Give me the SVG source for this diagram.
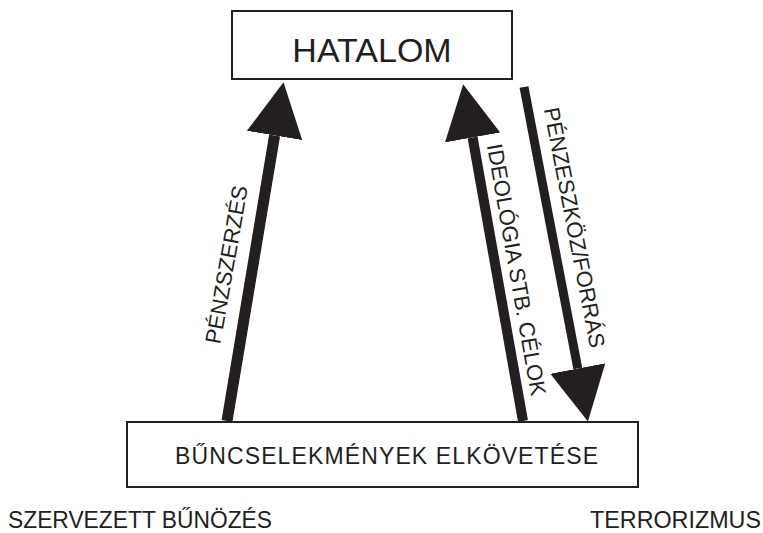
<svg xmlns="http://www.w3.org/2000/svg" width="763" height="533" viewBox="0 0 763 533">
<style>
.box{fill:#fff;stroke:#231f20;stroke-width:2}
.t{font-family:"Liberation Sans",Arial,sans-serif;fill:#231f20}
.shaft{stroke:#231f20;fill:none}
</style>
<defs>
<marker id="head" markerUnits="userSpaceOnUse" markerWidth="56" markerHeight="58" refX="0" refY="28" orient="auto">
<path d="M0,0 L54,28 L0,56 z" fill="#231f20"/>
</marker>
</defs>
<rect width="763" height="533" fill="#fff"/>
<g id="connectors">
<line class="shaft" x1="227" y1="421" x2="274.6" y2="135.5" stroke-width="11" marker-end="url(#head)"/>
<line class="shaft" x1="523" y1="421" x2="472.6" y2="137.5" stroke-width="10" marker-end="url(#head)"/>
<line class="shaft" x1="524" y1="87" x2="577.8" y2="368.5" stroke-width="9" marker-end="url(#head)"/>
<text class="t" font-size="22" text-anchor="middle" transform="translate(234,266) rotate(-80)">PÉNZSZERZÉS</text>
<text class="t" font-size="22" text-anchor="middle" transform="translate(509,271) rotate(80)">IDEOLÓGIA STB. CÉLOK</text>
<text class="t" font-size="22" text-anchor="middle" transform="translate(567,229) rotate(79)">PÉNZESZKÖZ/FORRÁS</text>
</g>
<g id="hatalom">
<rect class="box" x="232" y="11" width="280" height="68"/>
<text class="t" x="372" y="62" font-size="34" text-anchor="middle">HATALOM</text>
</g>
<g id="buncselekmenyek">
<rect class="box" x="127" y="422" width="511" height="65"/>
<text class="t" x="175" y="464" font-size="23" textLength="423" lengthAdjust="spacing">BŰNCSELEKMÉNYEK ELKÖVETÉSE</text>
</g>
<g id="szervezett">
<text class="t" x="8" y="528" font-size="23" textLength="264" lengthAdjust="spacingAndGlyphs">SZERVEZETT BŰNÖZÉS</text>
</g>
<g id="terrorizmus">
<text class="t" x="590" y="528" font-size="23" textLength="171" lengthAdjust="spacingAndGlyphs">TERRORIZMUS</text>
</g>
</svg>
